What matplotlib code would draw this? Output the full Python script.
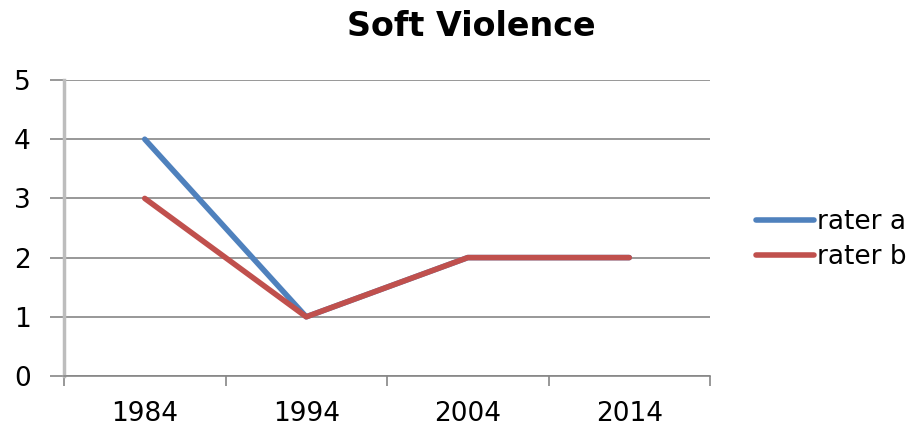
import matplotlib.pyplot as plt
from matplotlib.ticker import FixedLocator

years = ['1984', '1994', '2004', '2014']
rater_a = [4, 1, 2, 2]
rater_b = [3, 1, 2, 2]

plt.rcParams['font.family'] = ['DejaVu Sans']

fig = plt.figure(figsize=(9.19, 4.30), dpi=100)
ax = fig.add_axes([64/919, 54/430, 646/919, 296/430])

x = range(len(years))
ax.plot(x, rater_a, color='#4F81BD', linewidth=4, solid_capstyle='round', label='rater a')
ax.plot(x, rater_b, color='#C0504D', linewidth=4, solid_capstyle='round', label='rater b')

ax.set_xlim(-0.5, 3.5)
ax.set_ylim(0, 5)
ax.set_yticks(range(6))
ax.set_xticks(list(x))
ax.set_xticklabels(years)
ax.xaxis.set_minor_locator(FixedLocator([-0.5, 0.5, 1.5, 2.5, 3.5]))
ax.tick_params(axis='x', which='major', length=0, pad=18, labelsize=19)
ax.tick_params(axis='x', which='minor', length=7, width=1.2, color='#868686')
ax.tick_params(axis='y', length=10, width=1.2, color='#868686', pad=14, labelsize=19)

ax.grid(axis='y', color='#868686', linewidth=1.2)
for s in ['top', 'right']:
    ax.spines[s].set_visible(False)
ax.spines['left'].set_color('#BDBDBD')
ax.spines['left'].set_linewidth(2.5)
ax.spines['bottom'].set_color('#868686')
ax.spines['bottom'].set_linewidth(1.2)
ax.set_axisbelow(True)

fig.text(471/919, 403/430, 'Soft Violence', ha='center', va='center', fontsize=24, fontweight='bold')

ax.legend(loc='center left', bbox_to_anchor=(1.055, 0.46), frameon=False, fontsize=19,
          handlelength=2.2, handletextpad=0.1, labelspacing=0.35, borderaxespad=0)

fig.savefig('out.png', dpi=100)
